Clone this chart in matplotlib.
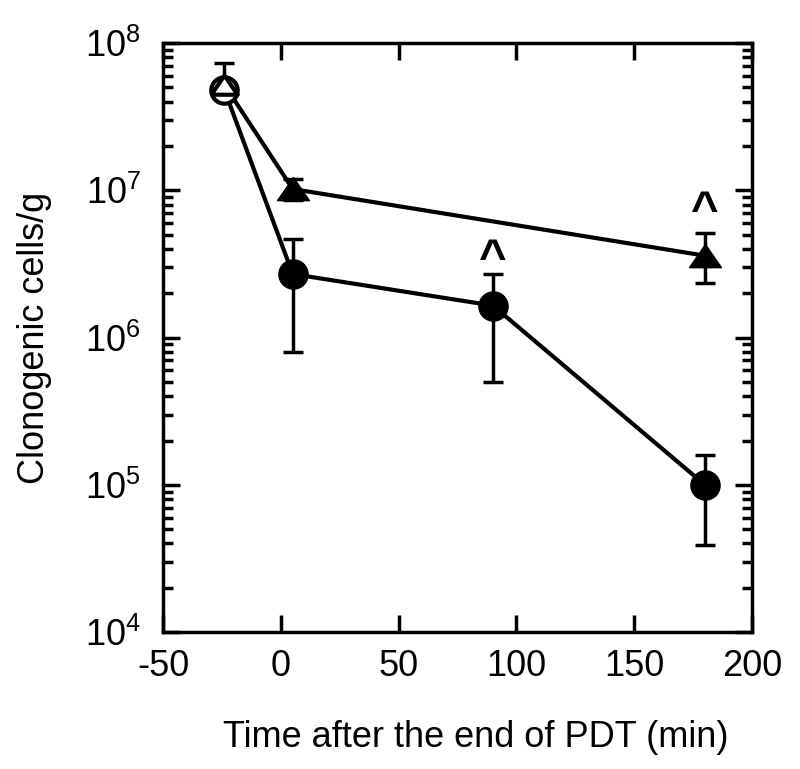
import numpy as np
import matplotlib.pyplot as plt
from matplotlib.ticker import LogLocator, NullFormatter

plt.rcParams['font.family'] = ['Liberation Sans', 'DejaVu Sans']
plt.rcParams['mathtext.fontset'] = 'custom'
plt.rcParams['mathtext.rm'] = 'Liberation Sans'

# circles
t_circ = [-24, 5, 90, 180]
circ = [4.8e7, 2.7e6, 1.65e6, 1.0e5]
circ_lo = [4.8e7, 8.0e5, 5.0e5, 3.9e4]
circ_hi = [4.8e7, 4.7e6, 2.7e6, 1.6e5]

# triangles
t_tri = [-24, 5, 180]
tri = [5.2e7, 1.02e7, 3.6e6]
tri_lo = [5.2e7, 8.6e6, 2.35e6]
tri_hi = [7.3e7, 1.2e7, 5.1e6]

# significance marks (x, baseline y)
sig_x = [90, 180]
sig_y = [2.8e6, 5.9e6]

xticks = [-50, 0, 50, 100, 150, 200]

fig = plt.figure(figsize=(8, 7.69), dpi=100)
ax = fig.add_axes([0.204, 0.178, 0.736, 0.766])

lw = 3
ax.plot(t_circ, circ, color='black', lw=lw, zorder=2)
ax.plot(t_tri, tri, color='black', lw=lw, zorder=2)

cerr = [np.array(circ) - np.array(circ_lo), np.array(circ_hi) - np.array(circ)]
terr = [np.array(tri) - np.array(tri_lo), np.array(tri_hi) - np.array(tri)]
ax.errorbar(t_circ, circ, yerr=cerr, fmt='none', ecolor='black', elinewidth=2.5, capsize=7, capthick=2.5, zorder=1)
ax.errorbar(t_tri, tri, yerr=terr, fmt='none', ecolor='black', elinewidth=2.5, capsize=7, capthick=2.5, zorder=1)

# wide triangle marker
tri_mark = [(-1, -0.7), (1, -0.7), (0, 0.75), (-1, -0.7)]

# first point (pre-treatment) open, rest filled
ax.plot(t_circ[1:], circ[1:], 'o', color='black', ms=21, zorder=3)
ax.plot(t_tri[1:], tri[1:], marker=tri_mark, ls='none', color='black', ms=23, zorder=3)
ax.plot(t_circ[:1], circ[:1], 'o', mfc='white', mec='black', mew=3, ms=19, zorder=3)
ax.plot(t_tri[:1], tri[:1], marker=tri_mark, ls='none', mfc='white', mec='black', mew=3, ms=19, zorder=4)

for x, y in zip(sig_x, sig_y):
    ax.text(x, y, '^', ha='center', va='baseline', fontsize=34, fontweight='bold')

ax.set_yscale('log')
ax.set_xlim(-50, 200)
ax.set_ylim(1e4, 1e8)
ax.set_xticks(xticks)
ax.set_xticklabels([str(v) for v in xticks])
ax.set_yticks([1e4, 1e5, 1e6, 1e7, 1e8])
ax.set_yticklabels([r'$\mathregular{10^{%d}}$' % k for k in range(4, 9)])
ax.yaxis.set_minor_locator(LogLocator(base=10, subs=np.arange(2, 10), numticks=20))
ax.yaxis.set_minor_formatter(NullFormatter())

ax.tick_params(which='both', direction='in', top=True, right=True, width=2.5)
ax.tick_params(which='major', length=12, labelsize=26)
ax.tick_params(axis='x', which='major', pad=12)
ax.tick_params(axis='y', which='major', pad=16)
ax.tick_params(which='minor', length=7)
for s in ax.spines.values():
    s.set_linewidth(2.5)

ax.set_xlabel('Time after the end of PDT (min)', fontsize=26, labelpad=26, x=0.53)
ax.set_ylabel('Clonogenic cells/g', fontsize=26, labelpad=24)

fig.savefig('out.png', dpi=100)
